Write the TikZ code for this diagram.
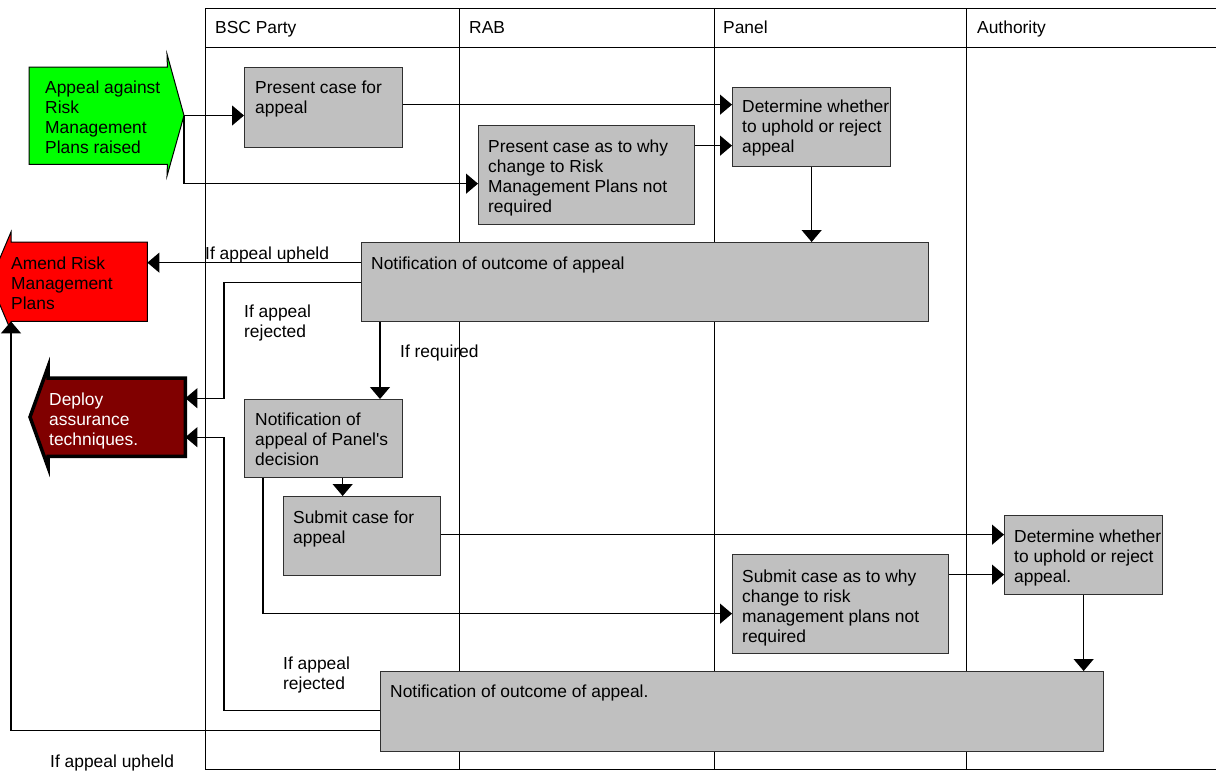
\documentclass[tikz,border=0pt]{standalone}
\usepackage{fontspec}
\setmainfont{Liberation Sans}[Ligatures=TeXOff]
\usetikzlibrary{arrows.meta}
\definecolor{boxgray}{HTML}{C0C0C0}
\definecolor{boxline}{HTML}{303030}
\definecolor{startgreen}{HTML}{00FF00}
\definecolor{amendred}{HTML}{FF0000}
\definecolor{deployred}{HTML}{800000}
\begin{document}
\begin{tikzpicture}[x=1pt,y=-1pt,
  lane/.style={line width=1pt, black},
  procbox/.style={draw=boxline, fill=boxgray, line width=1.3pt, inner sep=0pt, anchor=north west},
  body/.style={inner sep=0pt, anchor=north west},
  txt/.style={font=\fontsize{17.4}{20}\selectfont, inner sep=0pt, align=left, anchor=north west},
  lbl/.style={font=\fontsize{17.4}{20}\selectfont, inner sep=0pt, anchor=base west},
  flow/.style={line width=1.2pt, -{Triangle[length=12pt,width=20pt]}},
]
\useasboundingbox (0,0) rectangle (1216,771);

% swimlane frame
\draw[lane] (205,8) -- (1216,8);
\draw[lane] (205,47) -- (1216,47);
\draw[lane] (205,769) -- (1216,769);
\foreach \x in {205,459,714,966} \draw[lane] (\x,8) -- (\x,769);
\node[lbl] (hbsc) at (215,34) {BSC Party};
\node[lbl] (hrab) at (469,34) {RAB};
\node[lbl] (hpanel) at (723,34) {Panel};
\node[lbl] (hauth) at (977,34) {Authority};

% start: appeal raised
\node[body, minimum width=138pt, minimum height=97pt] (appeal) at (29,67) {};
\coordinate (appealtip) at (184,115.5);
\draw[line width=1pt, fill=startgreen] (appeal.north west) -- (appeal.north east) -- (167,54)
  -- (appealtip) -- (167,176) -- (appeal.south east) -- (appeal.south west) -- cycle;
\node[txt] (appealtxt) at (45,79) {\strut Appeal against\\Risk\\Management\\Plans raised};

% outcome: amend plans
\node[body, minimum width=136pt, minimum height=79pt] (amend) at (11,242) {};
\draw[line width=1pt, fill=amendred] (amend.north west) -- (amend.north east) -- (amend.south east)
  -- (amend.south west) -- (11,331) -- (-10,281.5) -- (11,232) -- cycle;
\node[txt] (amendtxt) at (11,255) {\strut Amend Risk\\Management\\Plans};

% outcome: deploy techniques
\node[body, minimum width=137pt, minimum height=78pt] (deploy) at (48,378) {};
\draw[line width=3.5pt, line join=miter, fill=deployred] (deploy.north west) -- (deploy.north east)
  -- (deploy.south east) -- (deploy.south west) -- (48,467) -- (30,417) -- (48,367) -- cycle;
\node[txt, text=white] (deploytxt) at (49,391) {\strut Deploy\\assurance\\techniques.};

% process steps
\node[procbox, minimum width=158pt, minimum height=80pt] (pcase) at (244,67) {};
\node[txt] (pcasetxt) at ([xshift=11pt,yshift=-12pt]pcase.north west) {\strut Present case for\\appeal};

\node[procbox, minimum width=216pt, minimum height=99pt] (pwhy) at (478,125) {};
\node[txt] (pwhytxt) at ([xshift=10pt,yshift=-13pt]pwhy.north west) {\strut Present case as to why\\change to Risk\\Management Plans not\\required};

\node[procbox, minimum width=158pt, minimum height=79pt] (det1) at (732,87) {};
\node[txt] (det1txt) at ([xshift=10pt,yshift=-11pt]det1.north west) {\strut Determine whether\\to uphold or reject\\appeal};

\node[procbox, minimum width=567pt, minimum height=79pt] (note1) at (361,242) {};
\node[txt] (note1txt) at ([xshift=10pt,yshift=-13pt]note1.north west) {\strut Notification of outcome of appeal};

\node[procbox, minimum width=158pt, minimum height=78pt] (npanel) at (244,399) {};
\node[txt] (npaneltxt) at ([xshift=11pt,yshift=-12pt]npanel.north west) {\strut Notification of\\appeal of Panel's\\decision};

\node[procbox, minimum width=157pt, minimum height=79pt] (submit) at (283,496) {};
\node[txt] (submittxt) at ([xshift=10pt,yshift=-13pt]submit.north west) {\strut Submit case for\\appeal};

\node[procbox, minimum width=158pt, minimum height=79pt] (det2) at (1004,515) {};
\node[txt] (det2txt) at ([xshift=10pt,yshift=-13pt]det2.north west) {\strut Determine whether\\to uphold or reject\\appeal.};

\node[procbox, minimum width=216pt, minimum height=99pt] (swhy) at (732,554) {};
\node[txt] (swhytxt) at ([xshift=10pt,yshift=-14pt]swhy.north west) {\strut Submit case as to why\\change to risk\\management plans not\\required};

\node[procbox, minimum width=723pt, minimum height=80pt] (note2) at (380,671) {};
\node[txt] (note2txt) at ([xshift=10pt,yshift=-12pt]note2.north west) {\strut Notification of outcome of appeal.};

% connectors
\coordinate (c3) at ([yshift=3pt]pcase.east);
\coordinate (c4) at ([yshift=29.5pt]pwhy.east);
\coordinate (c6) at ([yshift=19.5pt]note1.west);
\coordinate (c8) at ([xshift=19pt]note1.south west);
\coordinate (c9) at ([xshift=19pt]npanel.south);
\coordinate (c11) at ([yshift=1.5pt]submit.east);
\coordinate (c12) at ([yshift=29.5pt]swhy.east);

\draw[flow] (appealtip) -- (appealtip -| pcase.west);
\draw[flow] (appealtip) |- ([yshift=-8.5pt]pwhy.west);
\draw[flow] (c3) -- (c3 -| det1.west);
\draw[flow] (c4) -- (c4 -| det1.west);
\draw[flow] (det1.south) -- (det1.south |- note1.north);
\draw[flow] (c6) -- (c6 -| amend.east);
\draw[flow] (note1.west) -- ++(-137,0) |- ([yshift=19pt]deploy.east);
\draw[flow] (c8) -- (c8 |- npanel.north);
\draw[flow] (c9) -- (c9 |- submit.north);
\draw[flow] ([xshift=19pt]npanel.south west) |- ([yshift=-9.5pt]swhy.west);
\draw[flow] (c11) -- (c11 -| det2.west);
\draw[flow] (c12) -- (c12 -| det2.west);
\draw[flow] (det2.south) -- (det2.south |- note2.north);
\draw[flow] ([yshift=1pt]note2.west) -- ++(-156,0) |- ([yshift=-20pt]deploy.east);
\draw[flow] ([yshift=-19pt]note2.west) -| (amend.south west);

% branch labels
\node[lbl] (lupheld1) at (205,259) {If appeal upheld};
\node[txt] (lrej1) at (244,303) {\strut If appeal\\rejected};
\node[lbl] (lreq) at (400,357) {If required};
\node[txt] (lrej2) at (283,655) {\strut If appeal\\rejected};
\node[lbl] (lupheld2) at (50,767) {If appeal upheld};
\end{tikzpicture}
\end{document}
